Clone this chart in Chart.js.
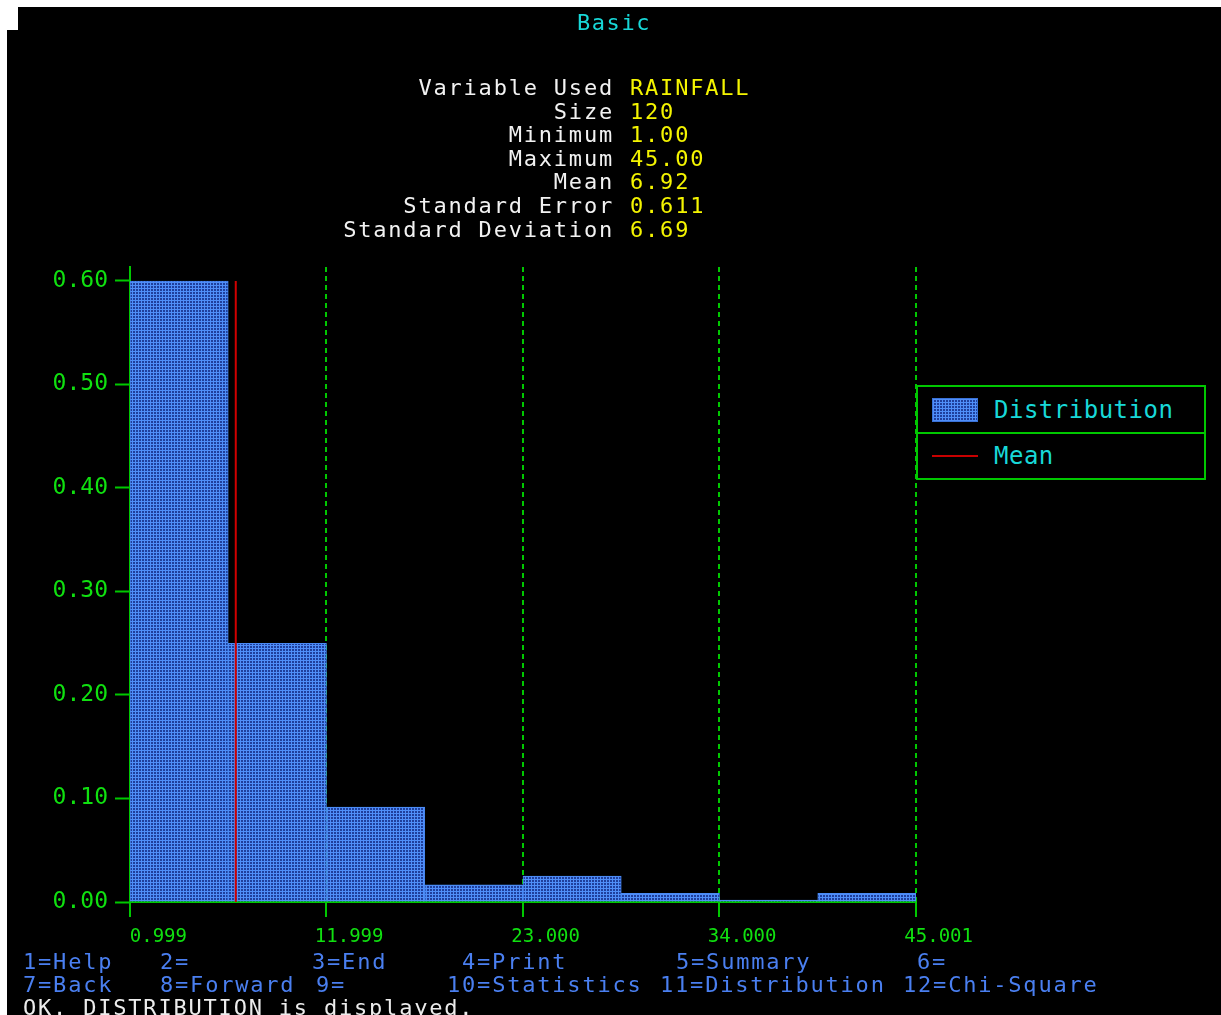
<!DOCTYPE html>
<html>
<head>
<meta charset="utf-8">
<title>Basic</title>
<script src="https://cdn.jsdelivr.net/npm/chart.js@4.4.1/dist/chart.umd.min.js"></script>
<style>
  html, body { margin: 0; padding: 0; background: #fff; width: 1221px; height: 1015px; overflow: hidden; }
  #screen { position: absolute; left: 7px; top: 7px; width: 1214px; height: 1008px; background: #000; }
  #notch { position: absolute; left: 7px; top: 7px; width: 11px; height: 23px; background: #fff; }
  #chart { position: absolute; left: 0; top: 0; }
  .mono { position: absolute; font-family: "DejaVu Sans Mono", monospace; white-space: pre; }
  #title { left: 0; width: 1228px; top: 11px; text-align: center; color: #18d8d8; font-size: 22px; line-height: 23.5px; letter-spacing: 1.6px; }
  #statLabels { right: 607px; top: 76px; text-align: right; color: #f2f2f2; font-size: 22px; line-height: 23.6px; letter-spacing: 1.8px; }
  #statValues { left: 630px; top: 76px; color: #f4f400; font-size: 22px; line-height: 23.6px; letter-spacing: 1.8px; }
  #legend { position: absolute; left: 916px; top: 385px; width: 286px; height: 91px; border: 2px solid #00c800; background: #000; box-sizing: content-box; }
  .lrow { position: relative; height: 45px; display: flex; align-items: center; }
  .lrow + .lrow { border-top: 2px solid #00c800; height: 44px; }
  .lkey { width: 46px; margin-left: 14px; margin-right: 16px; }
  #swatch { height: 24px; box-sizing: border-box; border: 1px solid #3a72d8; }
  #meanKey { height: 2px; background: #c80000; }
  .ltext { font-family: "DejaVu Sans Mono", monospace; font-size: 24px; color: #18d8d8; letter-spacing: 0.5px; }
  .fkey { color: #4a7ff0; font-size: 22px; line-height: 23px; letter-spacing: 1.8px; }
  #status { left: 23px; top: 996px; color: #ececec; font-size: 22px; line-height: 23px; letter-spacing: 1.8px; }
</style>
</head>
<body>
<div id="screen"></div>
<div id="notch"></div>
<canvas id="chart" width="1221" height="1015"></canvas>
<div id="title" class="mono">Basic</div>
<div id="statLabels" class="mono"></div>
<div id="statValues" class="mono"></div>
<div id="legend">
  <div class="lrow"><div class="lkey" id="swatch"></div><span class="ltext">Distribution</span></div>
  <div class="lrow"><div class="lkey" id="meanKey"></div><span class="ltext">Mean</span></div>
</div>
<div id="status" class="mono">OK. DISTRIBUTION is displayed.</div>
<script>
// histogram of RAINFALL, 8 bins, proportion of 120 obs
const binEdges = [0.999, 6.499, 11.999, 17.500, 23.000, 28.500, 34.000, 39.501, 45.001];
const density = [0.600, 0.250, 0.0917, 0.0167, 0.0250, 0.0083, 0.0, 0.0083];
const meanValue = 6.92;
const xTicks = [0.999, 11.999, 23.000, 34.000, 45.001];
const yTicks = [0.0, 0.1, 0.2, 0.3, 0.4, 0.5, 0.6];

const statLabels = ['Variable Used', 'Size', 'Minimum', 'Maximum', 'Mean', 'Standard Error', 'Standard Deviation'];
const statValues = ['RAINFALL', '120', '1.00', '45.00', '6.92', '0.611', '6.69'];

const fkeyRows = [
  [['1=Help', 23], ['2=', 160], ['3=End', 312], ['4=Print', 462], ['5=Summary', 676], ['6=', 917]],
  [['7=Back', 23], ['8=Forward', 160], ['9=', 316], ['10=Statistics', 447], ['11=Distribution', 660], ['12=Chi-Square', 903]]
];

document.getElementById('statLabels').textContent = statLabels.join('\n');
document.getElementById('statValues').textContent = statValues.join('\n');

fkeyRows.forEach(function(row, r) {
  row.forEach(function(k) {
    const s = document.createElement('div');
    s.className = 'mono fkey';
    s.textContent = k[0];
    s.style.left = k[1] + 'px';
    s.style.top = (950 + r * 23) + 'px';
    document.body.appendChild(s);
  });
});

// fine blue grid fill like the terminal hatching
function makeTile() {
  const c = document.createElement('canvas');
  c.width = 3; c.height = 3;
  const g = c.getContext('2d');
  g.fillStyle = '#4f8ef8';
  g.fillRect(0, 0, 3, 3);
  g.fillStyle = '#1f3f9c';
  g.fillRect(1, 1, 2, 2);
  return c;
}
const tile = makeTile();
document.getElementById('swatch').style.backgroundImage = 'url(' + tile.toDataURL() + ')';

const ctx = document.getElementById('chart');
const fill = ctx.getContext('2d').createPattern(tile, 'repeat');

const green = '#00c800';
const bins = density.map(function(d, i) {
  return { x: (binEdges[i] + binEdges[i + 1]) / 2, y: d };
});

new Chart(ctx, {
  type: 'bar',
  data: {
    datasets: [{
      type: 'line',
      label: 'Mean',
      data: [{ x: meanValue, y: 0 }, { x: meanValue, y: density[0] }],
      borderColor: '#d00000',
      borderWidth: 2,
      pointRadius: 0,
      order: 0
    }, {
      label: 'Distribution',
      data: bins,
      backgroundColor: fill,
      borderColor: '#4a8af4',
      borderWidth: 1,
      barPercentage: 1,
      categoryPercentage: 1,
      minBarLength: 2,
      order: 1
    }]
  },
  options: {
    responsive: false,
    animation: false,
    layout: { padding: { top: 267, right: 305, bottom: 53, left: 0 } },
    plugins: {
      legend: { display: false },
      tooltip: { enabled: false }
    },
    scales: {
      x: {
        type: 'linear',
        min: 0.999,
        max: 45.001,
        offset: false,
        afterBuildTicks: function(s) { s.ticks = xTicks.map(function(v) { return { value: v }; }); },
        afterFit: function(s) { s.height = 60; },
        grid: { color: green, lineWidth: 2, offset: false, tickLength: 15, tickColor: green, tickWidth: 2 },
        border: { color: green, width: 2, dash: [5, 4] },
        ticks: {
          color: '#10e010',
          font: { family: 'DejaVu Sans Mono', size: 19 },
          align: 'end',
          labelOffset: 57,
          padding: 9,
          autoSkip: false,
          maxRotation: 0,
          callback: function(v) { return v.toFixed(3); }
        }
      },
      y: {
        min: 0,
        max: 0.6135,
        afterBuildTicks: function(s) { s.ticks = yTicks.map(function(v) { return { value: v }; }); },
        afterFit: function(s) { s.width = 130; },
        grid: { drawOnChartArea: false, color: green, tickLength: 15, tickColor: green, tickWidth: 2 },
        border: { color: green, width: 2 },
        ticks: {
          color: '#10e010',
          font: { family: 'DejaVu Sans Mono', size: 23 },
          padding: 7,
          callback: function(v) { return v.toFixed(2); }
        }
      }
    }
  }
});
</script>
</body>
</html>
